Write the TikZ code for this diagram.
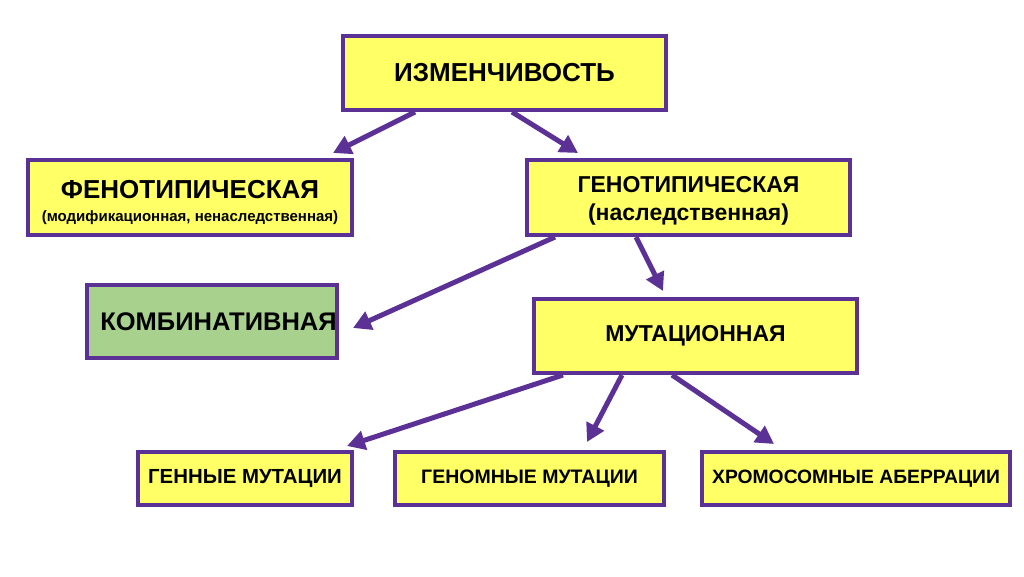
\documentclass[tikz,border=0pt]{standalone}
\usepackage{fontspec}
\setmainfont{Liberation Sans}
\usetikzlibrary{arrows.meta,calc}
\definecolor{boxyellow}{HTML}{FFFF66}
\definecolor{boxgreen}{HTML}{A9D18E}
\definecolor{purp}{HTML}{5C3196}
\tikzset{
  box/.style={draw=purp, line width=4pt, fill=boxyellow, inner sep=0pt, align=center, font=\bfseries},
  gbox/.style={box, fill=boxgreen},
  arr/.style={draw=purp, line width=5pt, -{Triangle[length=18pt,width=19pt]}}
}
\begin{document}
\begin{tikzpicture}[x=1pt,y=-1pt]
\useasboundingbox (0,0) rectangle (1024,576);
\node[box, minimum width=323pt, minimum height=74pt, font=\bfseries\fontsize{26}{28}\selectfont] (izm) at (504.5,73) {ИЗМЕНЧИВОСТЬ};
\node[box, minimum width=324pt, minimum height=75pt, text height=48pt, text depth=0pt, font=\bfseries\fontsize{26}{23.5}\selectfont] (fen) at (190,197.5) {ФЕНОТИПИЧЕСКАЯ\\{\fontsize{15}{18}\selectfont (модификационная, ненаследственная)}};
\node[box, minimum width=323pt, minimum height=75pt, text height=46pt, text depth=0pt, font=\bfseries\fontsize{23}{28}\selectfont] (gen) at (688.5,197.5) {ГЕНОТИПИЧЕСКАЯ\\(наследственная)};
\node[gbox, minimum width=248pt, minimum height=73pt, font=\bfseries\fontsize{25.5}{28}\selectfont] (komb) at (212,321.5) {\hspace*{13pt}КОМБИНАТИВНАЯ};
\node[box, minimum width=323pt, minimum height=74pt, font=\bfseries\fontsize{23}{26}\selectfont] (mut) at (695.5,336) {МУТАЦИОННАЯ};
\node[box, minimum width=214pt, minimum height=53pt, font=\bfseries\fontsize{20.4}{22}\selectfont] (gm) at (245,478.5) {ГЕННЫЕ МУТАЦИИ};
\node[box, minimum width=269pt, minimum height=53pt, font=\bfseries\fontsize{19.5}{22}\selectfont] (gnm) at (529.5,478.5) {ГЕНОМНЫЕ МУТАЦИИ};
\node[box, minimum width=308pt, minimum height=53pt, font=\bfseries\fontsize{19.3}{22}\selectfont] (hr) at (856,478.5) {ХРОМОСОМНЫЕ АБЕРРАЦИИ};
\coordinate (e1) at (333,153);
\coordinate (e2) at (578,153);
\coordinate (e3) at (353,328);
\coordinate (e4) at (663,291);
\coordinate (e5) at (347,446);
\coordinate (e6) at (587,442);
\coordinate (e7) at (774,444);
\draw[arr] ([xshift=-89.5pt]izm.south) -- (e1);
\draw[arr] ([xshift=7.5pt]izm.south) -- (e2);
\draw[arr] ([xshift=-133.5pt]gen.south) -- (e3);
\draw[arr] ([xshift=-52.5pt]gen.south) -- (e4);
\draw[arr] ([xshift=-132.5pt]mut.south) -- (e5);
\draw[arr] ([xshift=-73.5pt]mut.south) -- (e6);
\draw[arr] ([xshift=-23.5pt]mut.south) -- (e7);
\end{tikzpicture}
\end{document}
